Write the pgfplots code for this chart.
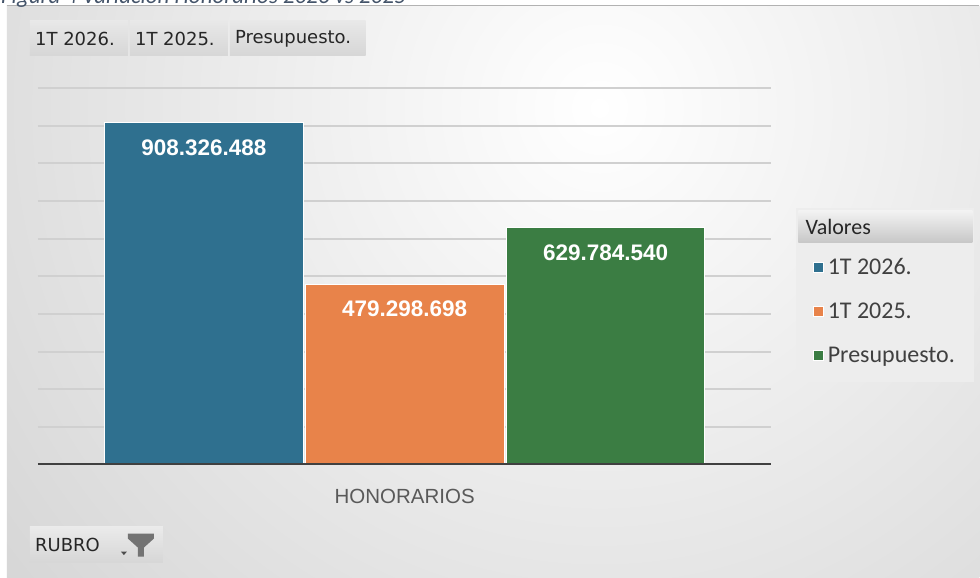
\documentclass[border=0pt]{standalone}
\usepackage{pgfplots}
\pgfplotsset{compat=1.18}
\usepackage{fontspec}
\setmainfont{Carlito}
\newfontfamily\arialf{Liberation Sans}
\newfontfamily\tahf{DejaVu Sans}

\definecolor{c26}{HTML}{2F708F}
\definecolor{c25}{HTML}{E8834A}
\definecolor{cpr}{HTML}{3B7D43}
\definecolor{gridc}{HTML}{D0D0D0}
\definecolor{capblue}{HTML}{44546A}

\begin{document}
\begin{tikzpicture}[x=1pt,y=1pt]
\fill[white] (0,0) rectangle (980,578);
% chart background
\begin{scope}
  \clip (7,0) rectangle (980,572);
  \shade[overlay, inner color=white, outer color=black!20] (600,470) circle (950);
\end{scope}
\draw[black!30, line width=1.5pt] (7,572.5) -- (980,572.5);
\node[overlay, anchor=base west, font=\itshape\fontsize{23}{27}\selectfont, text=capblue, inner sep=0pt]
  at (1,574) {Figura 4 Variación Honorarios 2026 vs 2025};

% field buttons
\foreach \xa/\xb/\t in {30/128/{1T 2026.}, 130/228/{1T 2025.}, 230/366/{Presupuesto.}}{
  \shade[top color=black!9, bottom color=black!16] (\xa,522) rectangle (\xb,557);
  \node[anchor=west, font=\tahf\fontsize{18}{22}\selectfont, text=black!85, inner sep=0pt]
    at (\xa+5,539.5) {\t};
}
\shade[top color=black!8, bottom color=black!16] (30,15) rectangle (163,51);
\node[anchor=west, font=\tahf\fontsize{18}{22}\selectfont, text=black!85, inner sep=0pt]
  at (35,33) {RUBRO};
\fill[black!70] (121,26) -- (127,26) -- (124,22.5) -- cycle;
\fill[black!55] (128,44) -- (154,44) -- (154,39) -- (144,30) -- (144,21) -- (138,21) -- (138,30) -- (128,39) -- cycle;

% legend frame
\fill[black!7] (797,196) rectangle (975,370);
\shade[top color=black!5, bottom color=black!22] (799,335) rectangle (973,367);
\node[anchor=west, font=\fontsize{22}{26}\selectfont, text=black!85, inner sep=0pt]
  at (806,351) {Valores};

\begin{axis}[
  at={(38pt,113pt)}, anchor=south west,
  scale only axis, width=734pt, height=377pt,
  xmin=-1, xmax=1, ymin=0, ymax=1000,
  ybar=2pt, bar width=199pt,
  xtick={0}, xticklabels={HONORARIOS},
  xticklabel style={font=\arialf\fontsize{20.5}{24}\selectfont, text=black!65, yshift=-21pt},
  ytick={100,200,...,1000}, yticklabels={},
  ymajorgrids, grid style={gridc, line width=2pt},
  axis line style={draw=none},
  major tick length=0pt,
  point meta=explicit symbolic,
  nodes near coords,
  every node near coord/.append style={font=\arialf\bfseries\fontsize{22.5}{26}\selectfont,
    text=white, anchor=center, yshift=-25pt},
  legend style={at={(1.048,0.585)}, anchor=north west, draw=none, fill=none,
    font=\fontsize{24}{28}\selectfont, text=black!75, row sep=23pt,
    inner xsep=6pt, inner ysep=12pt,
    nodes={inner xsep=4pt}},
  legend cell align=left,
  legend image code/.code={\fill[#1] (0pt,-5pt) rectangle (10pt,5pt);},
]
\addplot[fill=c26, draw=white, line width=1pt] coordinates {(0,908.326488) [908.326.488]};
\addplot[fill=c25, draw=white, line width=1pt] coordinates {(0,479.298698) [479.298.698]};
\addplot[fill=cpr, draw=white, line width=1pt] coordinates {(0,629.784540) [629.784.540]};
\legend{1T 2026., 1T 2025., Presupuesto.}
\draw[black!75, line width=3pt] (axis cs:-1,0) -- (axis cs:1,0);
\end{axis}
\end{tikzpicture}
\end{document}
